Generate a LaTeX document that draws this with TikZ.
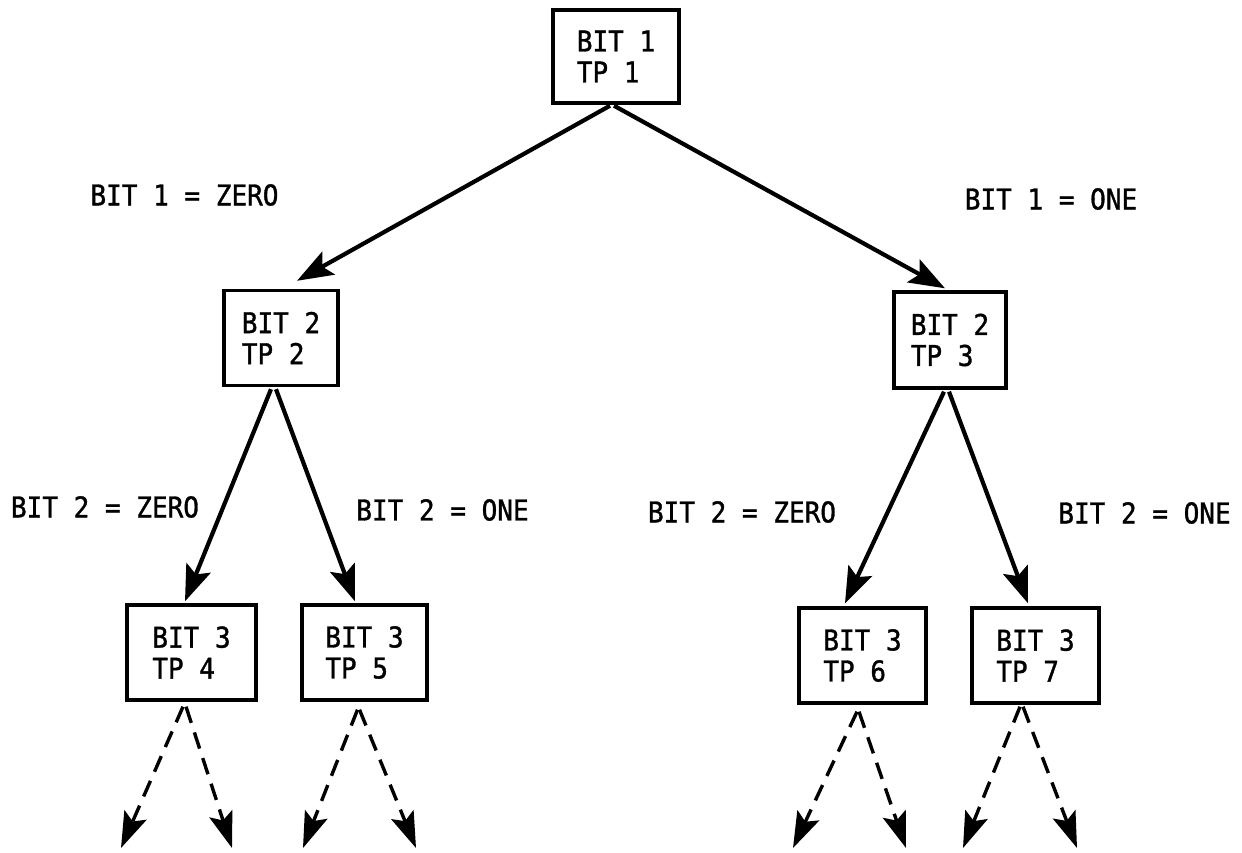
\documentclass[tikz,border=0pt]{standalone}
\usepackage{fontspec}
\newfontfamily\plotfont[FakeStretch=0.91,FakeBold=1.2]{DejaVu Sans Mono}
\usetikzlibrary{arrows.meta,calc}
\begin{document}
\begin{tikzpicture}[x=0.5pt,y=-0.5pt,
  tbox/.style={draw,line width=1.7pt,inner sep=0pt,minimum height=47.5pt,align=left,
    font=\plotfont\fontsize{14.3}{15.5}\selectfont},
  lab/.style={inner sep=0pt,font=\plotfont\fontsize{14.3}{15.5}\selectfont},
  solidarrow/.style={line width=2.1pt,-{Stealth[length=18pt,width=13pt,inset=3.5pt]}},
  dasharrow/.style={line width=1.7pt,dash pattern=on 8.5pt off 5pt,
    -{Stealth[length=18pt,width=12pt,inset=3.5pt]}}]
\useasboundingbox (0,0) rectangle (1242,852);

% boxes
\node[tbox,minimum width=63pt,minimum height=46.5pt] (b1) at (616,56.5) {BIT 1\\TP 1};
\node[tbox,minimum width=57pt] (b2) at (281,338) {BIT 2\\TP 2};
\node[tbox,minimum width=56pt,minimum height=48pt] (b3) at (950,340) {BIT 2\\TP 3};
\node[tbox,minimum width=64.5pt] (b4) at (191.5,652.5) {BIT 3\\TP 4};
\node[tbox,minimum width=62.5pt] (b5) at (364.5,652.5) {BIT 3\\TP 5};
\node[tbox,minimum width=63.5pt] (b6) at (862.5,655.5) {BIT 3\\TP 6};
\node[tbox,minimum width=63.5pt] (b7) at (1035.5,655.5) {BIT 3\\TP 7};

% labels
\node[lab] (l1) at (184.5,195) {BIT 1 = ZERO};
\node[lab] (l2) at (1051,199) {BIT 1 = ONE};
\node[lab] (l3) at (105,507) {BIT 2 = ZERO};
\node[lab] (l4) at (442.5,510) {BIT 2 = ONE};
\node[lab] (l5) at (742,512) {BIT 2 = ZERO};
\node[lab] (l6) at (1144.5,513) {BIT 2 = ONE};

% solid arrows
\draw[solidarrow] ($(b1.south)+(-6,1)$) -- ($(b2.north)+(16,-8)$);
\draw[solidarrow] ($(b1.south)+(-2,1)$) -- ($(b3.north)+(-5,-2)$);
\draw[solidarrow] ($(b2.south)+(-10,2)$) -- ($(b4.north)+(-6.5,-2)$);
\draw[solidarrow] ($(b2.south)+(-5,2)$) -- ($(b5.north)+(-9.5,-2)$);
\draw[solidarrow] ($(b3.south)+(-6,2)$) -- ($(b6.north)+(-17.5,-3)$);
\draw[solidarrow] ($(b3.south)+(-1,2)$) -- ($(b7.north)+(-7.5,-3)$);

% free ends of dashed arrows
\coordinate (e4l) at (121,848);
\coordinate (e4r) at (232,848);
\coordinate (e5l) at (303,848);
\coordinate (e5r) at (416,848);
\coordinate (e6l) at (793,848);
\coordinate (e6r) at (906,848);
\coordinate (e7l) at (963,848);
\coordinate (e7r) at (1077,848);

% dashed arrows
\draw[dasharrow] ($(b4.south)+(-8.5,5)$) -- (e4l);
\draw[dasharrow] ($(b4.south)+(-5.5,5)$) -- (e4r);
\draw[dasharrow] ($(b5.south)+(-7,8)$) -- (e5l);
\draw[dasharrow] ($(b5.south)+(-5,8)$) -- (e5r);
\draw[dasharrow] ($(b6.south)+(-5.5,7)$) -- (e6l);
\draw[dasharrow] ($(b6.south)+(-3.5,7)$) -- (e6r);
\draw[dasharrow] ($(b7.south)+(-15.5,2)$) -- (e7l);
\draw[dasharrow] ($(b7.south)+(-12.5,2)$) -- (e7r);
\end{tikzpicture}
\end{document}
